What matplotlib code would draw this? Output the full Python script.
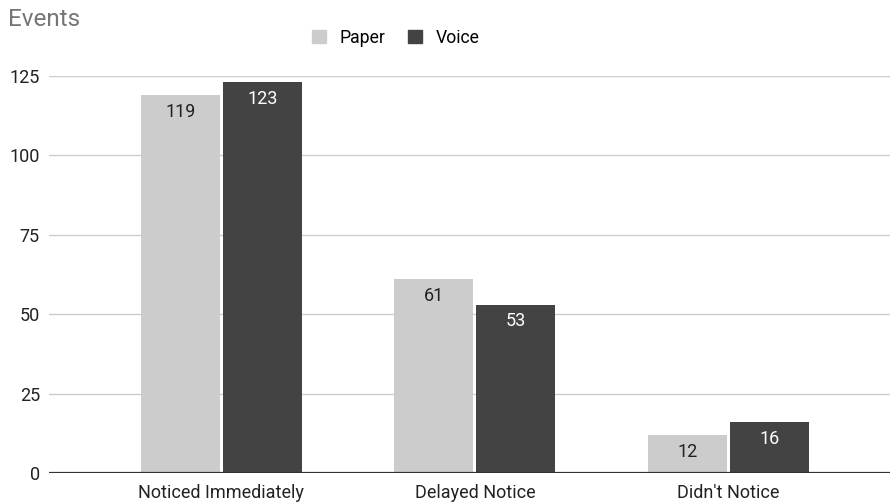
import numpy as np
import matplotlib.pyplot as plt

# event counts per reaction type
categories = ["Noticed Immediately", "Delayed Notice", "Didn't Notice"]
paper = [119, 61, 12]
voice = [123, 53, 16]
yticks = [0, 25, 50, 75, 100, 125]

plt.rcParams['font.family'] = ['Roboto', 'DejaVu Sans']

fig = plt.figure(figsize=(8.9, 5.04), dpi=100)
ax = fig.add_axes([49 / 890, 1 - 473 / 504, 841 / 890, 397 / 504])

x = np.arange(len(categories))
width = 0.312
offset = 0.162

b1 = ax.bar(x - offset, paper, width, color="#cccccc", zorder=3)
b2 = ax.bar(x + offset, voice, width, color="#434343", zorder=3)

# value labels just inside the top of each bar
for bar, v in zip(b1, paper):
    ax.annotate(str(v), (bar.get_x() + bar.get_width() / 2, v), xytext=(0, -12),
                textcoords="offset points", ha="center", va="center",
                fontsize=13, color="#222222", zorder=4)
for bar, v in zip(b2, voice):
    ax.annotate(str(v), (bar.get_x() + bar.get_width() / 2, v), xytext=(0, -12),
                textcoords="offset points", ha="center", va="center",
                fontsize=13, color="#ffffff", zorder=4)

ax.set_xlim(-0.680, 2.638)
ax.set_ylim(0, 125)
ax.set_yticks(yticks)
ax.set_xticks(x)
ax.set_xticklabels(categories)
ax.tick_params(axis="both", length=0, labelsize=13, colors="#222222")
ax.tick_params(axis="y", pad=6.5)
ax.tick_params(axis="x", pad=8)

ax.grid(axis="y", color="#cccccc", linewidth=1, zorder=0)
for s in ax.spines.values():
    s.set_visible(False)
ax.axhline(0, color="#333333", linewidth=1.6, zorder=5)

fig.text(8 / 890, 1 - 20 / 504, "Events", fontsize=17.5, color="#757575",
         ha="left", va="center")

handles = [plt.Rectangle((0, 0), 1, 1, color="#cccccc"),
           plt.Rectangle((0, 0), 1, 1, color="#434343")]
fig.legend(handles, ["Paper", "Voice"], loc="center", ncol=2,
           bbox_to_anchor=(396 / 890, 1 - 38 / 504), frameon=False,
           fontsize=12.7, handlelength=0.75, handleheight=0.75,
           handletextpad=0.8, columnspacing=1.3)

fig.savefig("out.png", dpi=100)
